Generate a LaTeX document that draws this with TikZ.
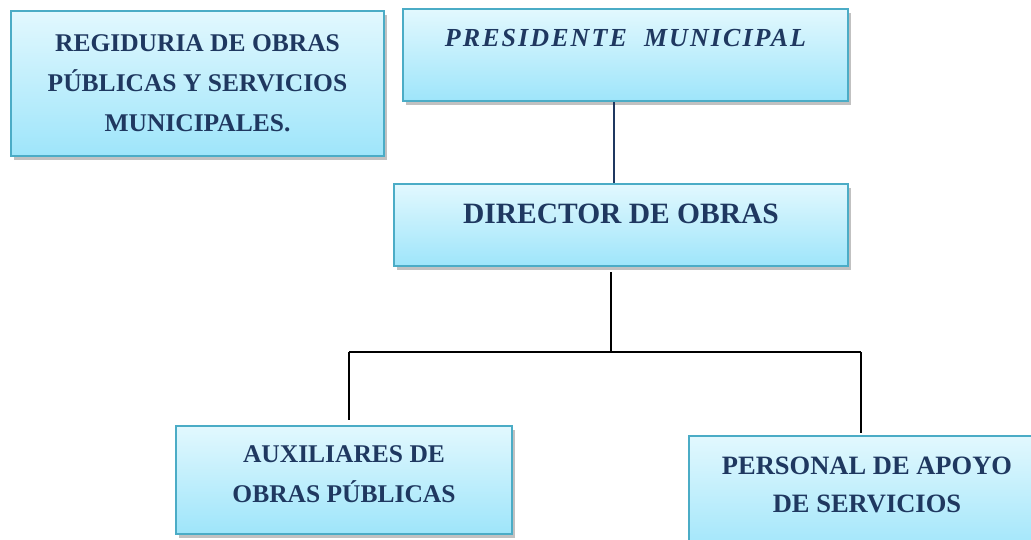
\documentclass[tikz,border=0pt]{standalone}
\usepackage{fontspec}
\setmainfont{Liberation Serif}
\usetikzlibrary{shadows}
\definecolor{borde}{RGB}{75,172,198}
\definecolor{letra}{RGB}{31,56,96}
\definecolor{arriba}{RGB}{226,248,254}
\definecolor{abajo}{RGB}{158,229,250}

\begin{document}
\begin{tikzpicture}[x=1pt,y=-1pt,
	cargo/.style={draw=borde,line width=2pt,top color=arriba,bottom color=abajo,
		drop shadow={shadow xshift=3pt,shadow yshift=-4pt,opacity=0.35,fill=black!70},
		text=letra,align=center,inner sep=0pt,anchor=north west},
	linea/.style={line width=2.5pt}]
	\useasboundingbox (0,0) rectangle (1031,539);
	
	\node[cargo,minimum width=373pt,minimum height=145pt,font=\bfseries\fontsize{25.5}{40}\selectfont] (reg) at (10,10)
		{REGIDURIA DE OBRAS\\PÚBLICAS Y SERVICIOS\\MUNICIPALES.};
	\node[cargo,minimum width=445pt,minimum height=92pt,text depth=34pt,
		font=\bfseries\itshape\fontsize{26}{30}\selectfont\addfontfeatures{LetterSpace=8}] (pres) at (402,8)
		{PRESIDENTE\ \ MUNICIPAL};
	\node[cargo,minimum width=454pt,minimum height=82pt,text depth=22pt,font=\bfseries\fontsize{29.5}{34}\selectfont] (dir) at (393,183)
		{DIRECTOR DE OBRAS};
	\node[cargo,minimum width=336pt,minimum height=108pt,text depth=12pt,font=\bfseries\fontsize{25.5}{40}\selectfont] (aux) at (175,425)
		{AUXILIARES DE\\OBRAS PÚBLICAS};
	\node[cargo,minimum width=356pt,minimum height=120pt,text depth=22pt,font=\bfseries\fontsize{26.5}{38}\selectfont] (pers) at (688,435)
		{PERSONAL DE APOYO\\DE SERVICIOS};
	
	
	\coordinate (rama) at (611,352);
	\coordinate (izq) at (349,352);
	\coordinate (der) at (861,352);
	
	\draw[linea,letra] ([xshift=-11.5pt]pres.south) -- ([xshift=-11.5pt]pres.south |- dir.north);
	\draw[linea] ([yshift=-5pt]rama |- dir.south) -- (rama);
	\draw[linea] (izq) -- (der);
	\draw[linea] (izq) -- ([yshift=5pt]izq |- aux.north);
	\draw[linea] (der) -- ([yshift=2pt]der |- pers.north);
\end{tikzpicture}
\end{document}
